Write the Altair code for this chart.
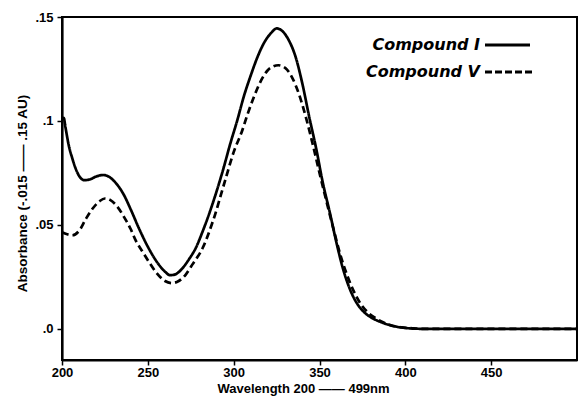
import altair as alt
import pandas as pd

series_names = ["Compound I", "Compound V"]

wl_I = [200, 201, 202, 204, 206, 208, 210, 213, 216, 220, 224, 228, 232, 236, 240, 245,
        250, 255, 260, 263, 266, 270, 274, 278, 282, 286, 290, 294, 298, 302, 306, 310,
        314, 318, 322, 325, 328, 332, 336, 340, 344, 348, 352, 356, 360, 364, 368, 372,
        376, 380, 385, 390, 395, 400, 405, 410, 420, 440, 460, 480, 500]
abs_I = [0.101, 0.1015, 0.097, 0.088, 0.082, 0.077, 0.0735, 0.0715, 0.0718, 0.0733, 0.0740, 0.0728, 0.0695, 0.0645, 0.0575, 0.0480,
         0.0395, 0.0325, 0.0275, 0.0258, 0.0262, 0.0290, 0.0335, 0.0390, 0.0470, 0.0560, 0.0660, 0.0770, 0.0890, 0.1000, 0.1120, 0.1220,
         0.1310, 0.1380, 0.1425, 0.1445, 0.1435, 0.1390, 0.1310, 0.1180, 0.1020, 0.0870, 0.0700, 0.0560, 0.0410, 0.0280, 0.0185, 0.0120,
         0.0080, 0.0055, 0.0035, 0.0020, 0.0010, 0.0004, 0.0001, 0.0, 0.0, 0.0, 0.0, 0.0, 0.0]

wl_V = [200, 203, 206, 210, 214, 218, 222, 225, 228, 232, 236, 240, 243, 247, 250, 255,
        260, 264, 268, 272, 276, 282, 288, 295, 300, 305, 308, 312, 316, 320, 323, 326,
        330, 334, 338, 342, 346, 350, 354, 358, 362, 366, 370, 374, 378, 382, 387, 392,
        398, 405, 410, 420, 440, 460, 480, 500]
abs_V = [0.0465, 0.0455, 0.0450, 0.0472, 0.0530, 0.0580, 0.0615, 0.0627, 0.0620, 0.0590, 0.0540, 0.0480, 0.0424, 0.0370, 0.0330, 0.0270,
         0.0230, 0.0220, 0.0230, 0.0260, 0.0310, 0.0390, 0.0520, 0.0713, 0.0850, 0.0954, 0.1030, 0.1120, 0.1195, 0.1245, 0.1262, 0.1268,
         0.1255, 0.1210, 0.1130, 0.1020, 0.0890, 0.0750, 0.0615, 0.0485, 0.0360, 0.0260, 0.0180, 0.0120, 0.0080, 0.0055, 0.0032, 0.0016,
         0.0007, 0.0002, 0.0, 0.0, 0.0, 0.0, 0.0, 0.0]

x_ticks = [200, 250, 300, 350, 400, 450]
y_ticks = [0.0, 0.05, 0.10, 0.15]

df = pd.concat([
    pd.DataFrame({"wl": wl_I, "abs": abs_I, "series": series_names[0]}),
    pd.DataFrame({"wl": wl_V, "abs": abs_V, "series": series_names[1]}),
], ignore_index=True)

TICK_FONT = "Liberation Sans"

lines = alt.Chart(df).mark_line(color="black", strokeWidth=2.7, interpolate="monotone").encode(
    x=alt.X("wl:Q",
            scale=alt.Scale(domain=[200, 500], nice=False, zero=False),
            axis=alt.Axis(values=x_ticks, title="Wavelength 200 —— 499nm", labelFlush=False,
                          titleX=241, titleY=28, titleBaseline="middle", titleAlign="center",
                          titleFontSize=13, labelPadding=1)),
    y=alt.Y("abs:Q",
            scale=alt.Scale(domain=[-0.015, 0.15], nice=False, zero=False),
            axis=alt.Axis(values=y_ticks, title="Absorbance (-.015 —— .15 AU)", labelFlush=False,
                          labelExpr="datum.value == 0 ? '.0' : substring(format(datum.value, '.2~f'), 1)",
                          titleX=-40, titleY=176, titleAngle=-90, titleBaseline="middle",
                          titleAlign="center", titleFontSize=13.5, labelPadding=4)),
    strokeDash=alt.StrokeDash("series:N",
                              scale=alt.Scale(domain=series_names, range=[[1, 0], [7, 4]]),
                              legend=None),
    detail="series:N",
)

leg_font = dict(font="DejaVu Sans", fontSize=16, fontWeight="bold", fontStyle="italic",
                color="black", align="right", baseline="middle")

t1 = alt.Chart(pd.DataFrame({"label": [series_names[0]]})).mark_text(**leg_font).encode(
    x=alt.value(418), y=alt.value(28), text="label:N")
t2 = alt.Chart(pd.DataFrame({"label": [series_names[1]]})).mark_text(**leg_font).encode(
    x=alt.value(418), y=alt.value(55), text="label:N")
r1 = alt.Chart(pd.DataFrame({"label": [series_names[0]]})).mark_rule(
    color="black", strokeWidth=2.8).encode(x=alt.value(423), x2=alt.value(468), y=alt.value(28))
r2 = alt.Chart(pd.DataFrame({"label": [series_names[1]]})).mark_rule(
    color="black", strokeWidth=2.8, strokeDash=[7, 3]).encode(x=alt.value(423), x2=alt.value(472), y=alt.value(55))

chart = alt.layer(lines, t1, t2, r1, r2).properties(
    width=515, height=343,
    autosize=alt.AutoSizeParams(type="none"),
    padding={"left": 62, "top": 17, "right": 1, "bottom": 37},
    background="white",
).configure_view(
    stroke="black", strokeWidth=2,
).configure_axis(
    grid=False, domainColor="black", domainWidth=2.2, tickColor="black", tickWidth=1.5, tickSize=5,
    labelFont=TICK_FONT, labelFontSize=13, labelFontWeight="bold", labelColor="black",
    titleFont=TICK_FONT, titleFontWeight="bold", titleColor="black",
)

chart.save("out.html", embed_options={"renderer": "svg", "actions": False})
